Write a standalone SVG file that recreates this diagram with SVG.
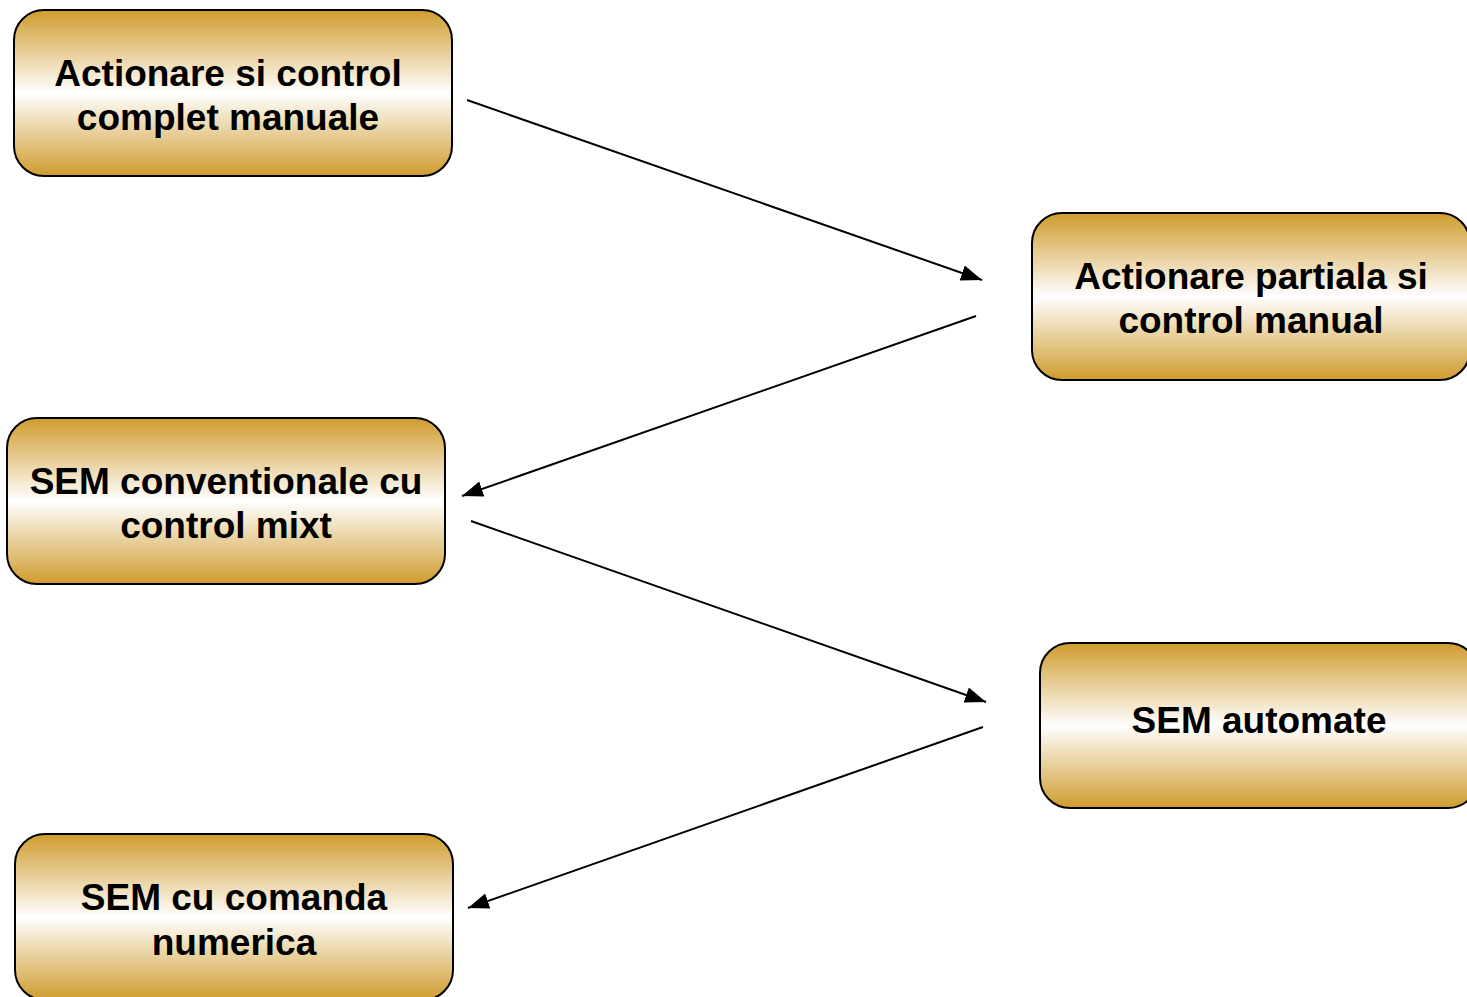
<svg xmlns="http://www.w3.org/2000/svg" width="1467" height="997" viewBox="0 0 1467 997">
<style>
.box{fill:url(#gold);stroke:#000;stroke-width:2}
.lbl{font-family:"Liberation Sans",Arial,sans-serif;font-weight:bold;font-size:37px;fill:#000;text-anchor:middle}
.conn{stroke:#000;stroke-width:2;fill:none;marker-end:url(#ah)}
</style>
<defs>
<linearGradient id="gold" x1="0" y1="0" x2="0" y2="1">
<stop offset="0" stop-color="#CF9C2E"/>
<stop offset="0.5" stop-color="#FFFFFF"/>
<stop offset="1" stop-color="#CF9C2E"/>
</linearGradient>
<marker id="ah" markerUnits="userSpaceOnUse" markerWidth="21" markerHeight="16" refX="21" refY="8" orient="auto" viewBox="0 0 21 16">
<path d="M0,0 L21,8 L0,16 z" fill="#000"/>
</marker>
</defs>
<rect width="1467" height="997" fill="#fff"/>
<g id="connectors">
<line class="conn" x1="467" y1="100" x2="982" y2="280"/>
<line class="conn" x1="976" y1="316" x2="462" y2="496"/>
<line class="conn" x1="471" y1="521" x2="986" y2="702"/>
<line class="conn" x1="983" y1="727" x2="468" y2="908"/>
</g>
<g id="node1">
<rect class="box" x="14" y="10" width="438" height="166" rx="30"/>
<text class="lbl" x="228" y="86">Actionare si control</text>
<text class="lbl" x="228" y="130">complet manuale</text>
</g>
<g id="node2">
<rect class="box" x="1032" y="213" width="438" height="167" rx="30"/>
<text class="lbl" x="1251" y="289">Actionare partiala si</text>
<text class="lbl" x="1251" y="333">control manual</text>
</g>
<g id="node3">
<rect class="box" x="7" y="418" width="438" height="166" rx="30"/>
<text class="lbl" x="226" y="494">SEM conventionale cu</text>
<text class="lbl" x="226" y="538">control mixt</text>
</g>
<g id="node4">
<rect class="box" x="1040" y="643" width="438" height="165" rx="30"/>
<text class="lbl" x="1259" y="733">SEM automate</text>
</g>
<g id="node5">
<rect class="box" x="15" y="834" width="438" height="166" rx="30"/>
<text class="lbl" x="234" y="910">SEM cu comanda</text>
<text class="lbl" x="234" y="955">numerica</text>
</g>
</svg>
